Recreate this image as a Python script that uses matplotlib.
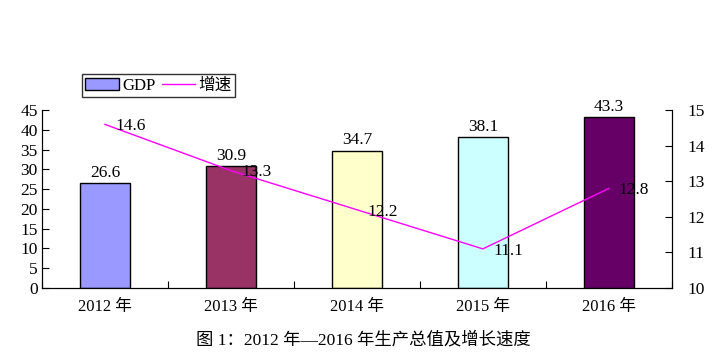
import numpy as np
import matplotlib.pyplot as plt

plt.rcParams['font.family'] = ['Liberation Serif', 'Noto Sans CJK SC']

years = ['2012 年', '2013 年', '2014 年', '2015 年', '2016 年']
gdp = [26.6, 30.9, 34.7, 38.1, 43.3]
growth = [14.6, 13.3, 12.2, 11.1, 12.8]
bar_colors = ['#9999FF', '#993366', '#FFFFCC', '#CCFFFF', '#660066']

fig = plt.figure(figsize=(7.19, 3.6), dpi=100)
ax = fig.add_axes([0.0584, 0.2, 0.876, 0.494])
x = np.arange(len(years))

bars = ax.bar(x, gdp, width=0.4, color=bar_colors, edgecolor='black', linewidth=1, label='GDP')
for xi, v in zip(x, gdp):
    ax.text(xi, v + 0.6, f'{v}', ha='center', va='bottom', fontsize=12.5)

ax.set_xlim(-0.5, 4.5)
ax.set_ylim(0, 45)
ax.set_yticks(range(0, 46, 5))
ax.set_xticks(np.arange(-0.5, 4.6, 1))
ax.set_xticklabels([])
ax.set_xticks(x, minor=True)
ax.set_xticklabels(years, minor=True, fontsize=12)
ax.tick_params(axis='x', which='minor', length=0, pad=8)
ax.tick_params(axis='x', which='major', direction='in', length=5)
ax.tick_params(axis='y', direction='in', length=5, labelsize=12.5, pad=3)
ax.spines['top'].set_visible(False)

ax2 = ax.twinx()
line, = ax2.plot(x, growth, color='#FF00FF', linewidth=1, label='增速')
for xi, v in zip(x, growth):
    ax2.text(xi + 0.08, v - 0.05, f'{v}', ha='left', va='center', fontsize=12.5)
ax2.set_ylim(10, 15)
ax2.set_yticks(range(10, 16))
ax2.tick_params(axis='y', direction='in', length=5, labelsize=12.5, pad=11)
ax2.spines['top'].set_visible(False)

fig.legend([bars, line], ['GDP', '增速'], loc='lower left', bbox_to_anchor=(0.114, 0.731),
           ncol=2, frameon=True, fancybox=False, edgecolor='black', fontsize=12,
           handlelength=2.0, handletextpad=0.2, columnspacing=0.4, borderpad=0.2,
           borderaxespad=0)

fig.text(0.505, 0.055, '图 1：2012 年—2016 年生产总值及增长速度', ha='center', va='center', fontsize=12.5)

fig.savefig('out.png', dpi=100)
